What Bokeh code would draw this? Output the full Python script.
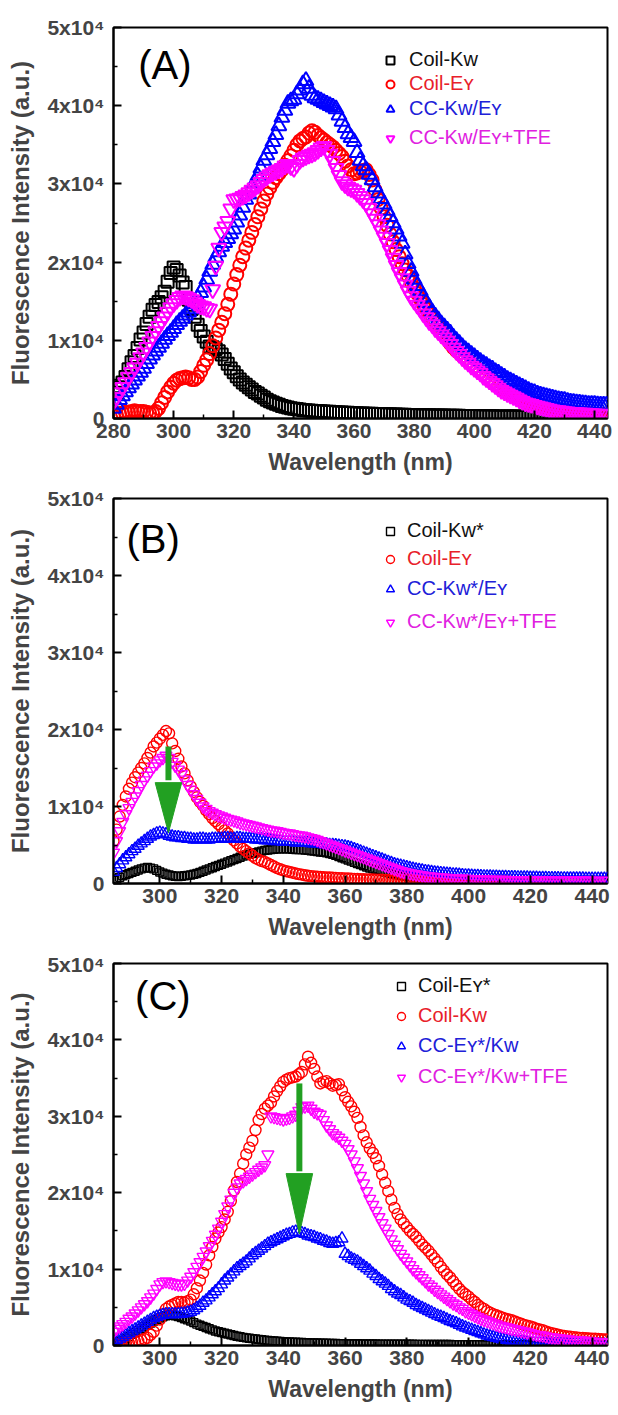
from bokeh.plotting import figure
from bokeh.layouts import column
from bokeh.models import (FixedTicker, Legend, LegendItem, Label, Range1d,
                          CustomJSTickFormatter)
from bokeh.embed import file_html
from bokeh.resources import INLINE

FONT = "Liberation Sans"

# ---------------- data (intensities in units of 10^3 a.u.) ----------------
wl_a = list(range(280, 445))      # 280..444 nm, panel A (1 nm steps)
wl_bc = list(range(285, 446))     # 285..445 nm, panels B and C

a_coil_kw = [
    2.6, 3.3, 4.0, 4.6, 5.3, 6.3, 7.2, 8.0, 9.0, 10.1,
    11.0, 12.1, 13.0, 13.9, 14.5, 14.9, 15.5, 16.2, 17.5, 18.6,
    19.3, 19.0, 18.3, 17.4, 16.8, 15.2, 14.0, 13.0, 12.0, 11.2,
    10.5, 9.8, 9.2, 9.1, 8.9, 8.6, 8.2, 7.6, 7.0, 6.4,
    5.9, 5.4, 5.0, 4.6, 4.3, 4.0, 3.7, 3.4, 3.2, 2.9,
    2.7, 2.4, 2.2, 2.05, 1.9, 1.75, 1.6, 1.5, 1.4, 1.32,
    1.25, 1.2, 1.15, 1.1, 1.05, 1.02, 1.0, 0.97, 0.95, 0.92,
    0.9, 0.87, 0.85, 0.82, 0.8, 0.78, 0.76, 0.74, 0.72, 0.7,
    0.68, 0.66, 0.65, 0.63, 0.62, 0.61, 0.6, 0.58, 0.57, 0.56,
    0.55, 0.54, 0.53, 0.51, 0.5, 0.49, 0.48, 0.47, 0.46, 0.45,
    0.44, 0.43, 0.43, 0.42, 0.41, 0.4, 0.39, 0.38, 0.38, 0.37,
    0.37, 0.36, 0.36, 0.35, 0.35, 0.34, 0.33, 0.33, 0.32, 0.32,
    0.31, 0.31, 0.3, 0.3, 0.29, 0.28, 0.28, 0.27, 0.27, 0.26,
    0.26, 0.25, 0.25, 0.24, 0.24, 0.23, 0.23, 0.22, 0.22, 0.21,
    0.21, 0.2, 0.2, 0.2, 0.19, 0.18, 0.18, 0.17, 0.17, 0.16,
    0.16, 0.15, 0.15, 0.14, 0.14, 0.13, 0.13, 0.13, 0.12, 0.12,
    0.11, 0.11, 0.1, 0.1, 0.1]
a_coil_ey = [
    0.3, 0.4, 0.6, 0.7, 0.8, 0.8, 0.9, 1.0, 0.9, 0.9,
    0.9, 0.8, 0.7, 0.7, 0.9, 1.3, 2.0, 2.7, 3.4, 4.0,
    4.5, 4.9, 5.1, 5.2, 5.3, 5.2, 5.0, 5.0, 5.3, 6.0,
    6.8, 7.5, 8.3, 9.3, 10.3, 11.3, 12.3, 13.4, 14.6, 15.9,
    17.2, 18.4, 19.6, 20.7, 21.8, 22.8, 23.8, 24.8, 25.8, 26.8,
    27.8, 28.7, 29.5, 30.2, 30.8, 31.3, 31.8, 32.4, 33.0, 33.6,
    34.3, 35.0, 35.5, 35.8, 36.0, 36.5, 36.8, 36.6, 36.2, 35.9,
    35.6, 35.3, 35.0, 34.7, 34.3, 33.9, 33.5, 32.9, 32.3, 31.8,
    31.3, 31.4, 31.6, 31.7, 31.8, 31.2, 30.5, 29.2, 28.0, 26.9,
    25.8, 24.7, 23.6, 22.6, 21.6, 20.7, 19.8, 19.0, 18.2, 17.4,
    16.7, 16.0, 15.3, 14.6, 14.0, 13.4, 12.8, 12.2, 11.7, 11.1,
    10.6, 10.1, 9.6, 9.1, 8.7, 8.4, 8.0, 7.7, 7.3, 7.0,
    6.7, 6.3, 6.0, 5.7, 5.4, 5.0, 4.7, 4.4, 4.1, 3.8,
    3.5, 3.3, 3.1, 2.9, 2.7, 2.5, 2.3, 2.1, 1.95, 1.8,
    1.7, 1.6, 1.5, 1.4, 1.3, 1.2, 1.1, 1.0, 0.95, 0.9,
    0.85, 0.8, 0.75, 0.72, 0.7, 0.68, 0.65, 0.62, 0.6, 0.58,
    0.55, 0.52, 0.5, 0.48, 0.46]
a_cc = [
    1.3, 1.8, 2.4, 2.9, 3.4, 3.9, 4.4, 4.9, 5.4, 5.9,
    6.4, 7.0, 7.6, 8.1, 8.6, 9.1, 9.6, 10.1, 10.6, 11.0,
    11.5, 12.0, 12.4, 12.8, 13.2, 13.6, 14.0, 14.7, 15.4, 16.1,
    16.8, 17.8, 18.8, 19.7, 20.6, 21.3, 22.0, 22.5, 23.0, 23.6,
    24.2, 25.1, 26.0, 27.0, 28.0, 28.7, 29.5, 30.2, 31.0, 32.0,
    33.0, 33.7, 34.5, 35.4, 36.3, 37.4, 38.5, 39.4, 40.3, 40.6,
    40.8, 41.5, 42.0, 42.8, 43.2, 42.2, 41.3, 41.0, 40.8, 40.6,
    40.4, 40.2, 40.0, 39.8, 39.6, 38.8, 38.0, 37.2, 36.4, 35.9,
    35.4, 34.0, 33.0, 32.3, 31.8, 31.2, 30.5, 29.6, 28.8, 28.1,
    27.4, 26.6, 25.8, 25.0, 24.2, 23.3, 22.4, 21.0, 19.8, 18.8,
    17.8, 17.0, 16.3, 15.5, 14.8, 14.2, 13.6, 13.1, 12.6, 12.1,
    11.7, 11.3, 10.9, 10.4, 10.0, 9.6, 9.2, 8.8, 8.5, 8.2,
    7.9, 7.6, 7.3, 7.0, 6.8, 6.5, 6.3, 6.0, 5.8, 5.5,
    5.3, 5.0, 4.8, 4.6, 4.4, 4.2, 4.0, 3.8, 3.6, 3.4,
    3.3, 3.1, 3.0, 2.9, 2.8, 2.7, 2.6, 2.5, 2.4, 2.35,
    2.3, 2.2, 2.1, 2.05, 2.0, 1.95, 1.9, 1.85, 1.8, 1.8,
    1.8, 1.75, 1.7, 1.7, 1.7]
a_cc_tfe = [
    2.2, 2.7, 3.3, 4.0, 4.6, 5.3, 5.9, 6.5, 7.1, 7.8,
    8.4, 9.1, 9.8, 10.5, 11.1, 11.8, 12.4, 13.0, 13.6, 14.2,
    14.7, 15.1, 15.5, 15.7, 15.6, 15.4, 15.2, 14.9, 14.6, 14.4,
    14.3, 14.1, 14.0, 16.5, 19.5, 21.8, 23.8, 24.5, 25.2, 26.8,
    28.0, 28.1, 28.2, 28.4, 28.6, 28.9, 29.2, 29.5, 29.8, 30.2,
    30.6, 30.9, 31.2, 31.4, 31.6, 31.8, 32.0, 32.3, 32.5, 32.2,
    32.0, 32.5, 33.0, 33.3, 33.5, 33.7, 33.8, 34.0, 34.3, 34.6,
    34.8, 34.3, 33.8, 32.9, 32.0, 31.1, 30.3, 29.9, 29.6, 29.4,
    29.2, 28.8, 28.4, 28.0, 27.5, 26.9, 26.2, 25.5, 24.8, 24.0,
    23.2, 22.4, 21.5, 20.5, 19.6, 18.7, 17.9, 17.1, 16.3, 15.6,
    15.0, 14.5, 14.0, 13.4, 12.9, 12.4, 12.0, 11.5, 11.1, 10.7,
    10.3, 9.9, 9.5, 9.0, 8.6, 8.2, 7.8, 7.4, 7.1, 6.7,
    6.4, 6.1, 5.8, 5.4, 5.1, 4.8, 4.5, 4.2, 3.9, 3.6,
    3.4, 3.2, 3.0, 2.8, 2.6, 2.4, 2.2, 2.0, 1.9, 1.8,
    1.7, 1.6, 1.5, 1.4, 1.3, 1.2, 1.1, 1.05, 1.0, 0.95,
    0.9, 0.85, 0.8, 0.78, 0.75, 0.72, 0.7, 0.68, 0.65, 0.62,
    0.6, 0.58, 0.55, 0.52, 0.5]

b_coil_kw_star = [
    0.4, 0.6, 0.8, 1.0, 1.15,
    1.3, 1.45, 1.6, 1.75, 1.9, 2.0, 2.1, 2.0, 1.9, 1.7,
    1.5, 1.35, 1.2, 1.1, 1.0, 0.95, 0.9, 0.95, 1.0, 1.05,
    1.1, 1.2, 1.3, 1.45, 1.6, 1.75, 1.9, 2.05, 2.2, 2.35,
    2.5, 2.65, 2.8, 2.95, 3.1, 3.25, 3.4, 3.55, 3.7, 3.8,
    3.9, 4.0, 4.1, 4.2, 4.3, 4.35, 4.4, 4.45, 4.5, 4.5,
    4.5, 4.5, 4.5, 4.45, 4.4, 4.4, 4.4, 4.35, 4.3, 4.25,
    4.2, 4.15, 4.1, 4.05, 4.0, 3.9, 3.8, 3.65, 3.5, 3.35,
    3.2, 3.05, 2.9, 2.75, 2.6, 2.45, 2.3, 2.15, 2.0, 1.9,
    1.8, 1.7, 1.6, 1.5, 1.4, 1.3, 1.2, 1.12, 1.05, 1.0,
    0.95, 0.9, 0.85, 0.82, 0.78, 0.75, 0.72, 0.69, 0.66, 0.64,
    0.62, 0.6, 0.58, 0.56, 0.55, 0.53, 0.52, 0.51, 0.5, 0.49,
    0.48, 0.47, 0.46, 0.45, 0.44, 0.43, 0.42, 0.41, 0.4, 0.4,
    0.39, 0.39, 0.38, 0.38, 0.37, 0.37, 0.36, 0.36, 0.35, 0.35,
    0.34, 0.34, 0.33, 0.33, 0.32, 0.32, 0.31, 0.31, 0.3, 0.3,
    0.3, 0.3, 0.29, 0.29, 0.28, 0.28, 0.28, 0.28, 0.27, 0.27,
    0.27, 0.27, 0.26, 0.26, 0.26, 0.26]
b_coil_ey = [
    5.5, 7.0, 8.7, 10.2, 11.3,
    12.3, 13.1, 13.8, 14.4, 15.0, 15.6, 16.3, 17.0, 17.8, 18.3,
    18.8, 19.3, 19.8, 19.5, 18.2, 17.2, 16.2, 15.2, 14.3, 13.4,
    12.6, 11.9, 11.2, 10.6, 10.1, 9.5, 9.0, 8.5, 8.1, 7.7,
    7.3, 6.9, 6.5, 6.0, 5.6, 5.2, 4.8, 4.5, 4.2, 3.9,
    3.6, 3.3, 3.1, 2.9, 2.8, 2.6, 2.4, 2.2, 2.0, 1.85,
    1.7, 1.6, 1.5, 1.4, 1.3, 1.22, 1.15, 1.07, 1.0, 0.96,
    0.92, 0.88, 0.85, 0.82, 0.8, 0.77, 0.75, 0.72, 0.7, 0.68,
    0.66, 0.64, 0.62, 0.6, 0.58, 0.56, 0.55, 0.53, 0.52, 0.51,
    0.5, 0.49, 0.48, 0.47, 0.46, 0.45, 0.44, 0.43, 0.42, 0.41,
    0.4, 0.39, 0.38, 0.37, 0.36, 0.35, 0.35, 0.34, 0.34, 0.33,
    0.33, 0.32, 0.32, 0.31, 0.31, 0.3, 0.3, 0.29, 0.29, 0.28,
    0.28, 0.27, 0.27, 0.26, 0.26, 0.25, 0.25, 0.24, 0.24, 0.23,
    0.23, 0.22, 0.22, 0.21, 0.21, 0.2, 0.2, 0.2, 0.2, 0.19,
    0.19, 0.19, 0.18, 0.18, 0.18, 0.17, 0.17, 0.17, 0.16, 0.16,
    0.16, 0.16, 0.15, 0.15, 0.15, 0.15, 0.14, 0.14, 0.14, 0.14,
    0.14, 0.13, 0.13, 0.13, 0.13, 0.13]
b_cc = [
    1.5, 2.0, 2.5, 3.0, 3.4,
    3.8, 4.2, 4.5, 4.9, 5.2, 5.5, 5.8, 6.1, 6.3, 6.5,
    6.6, 6.5, 6.4, 6.2, 6.1, 6.0, 6.0, 5.9, 5.9, 5.8,
    5.8, 5.7, 5.7, 5.8, 5.8, 5.7, 5.7, 5.8, 5.8, 5.8,
    5.8, 5.9, 5.9, 5.8, 5.8, 5.9, 5.9, 5.8, 5.8, 5.8,
    5.8, 5.7, 5.7, 5.7, 5.6, 5.6, 5.6, 5.5, 5.5, 5.5,
    5.4, 5.4, 5.4, 5.4, 5.3, 5.3, 5.3, 5.3, 5.3, 5.2,
    5.2, 5.2, 5.2, 5.1, 5.1, 5.0, 5.0, 4.95, 4.9, 4.85,
    4.8, 4.7, 4.6, 4.45, 4.3, 4.15, 4.0, 3.85, 3.7, 3.55,
    3.4, 3.25, 3.1, 2.95, 2.8, 2.65, 2.5, 2.4, 2.3, 2.2,
    2.1, 2.0, 1.9, 1.82, 1.75, 1.68, 1.6, 1.54, 1.48, 1.43,
    1.38, 1.34, 1.3, 1.26, 1.22, 1.18, 1.15, 1.12, 1.08, 1.05,
    1.02, 1.0, 0.98, 0.96, 0.94, 0.92, 0.91, 0.9, 0.88, 0.86,
    0.85, 0.84, 0.83, 0.82, 0.81, 0.8, 0.79, 0.78, 0.77, 0.76,
    0.75, 0.74, 0.73, 0.72, 0.71, 0.7, 0.69, 0.68, 0.67, 0.67,
    0.66, 0.66, 0.65, 0.65, 0.64, 0.64, 0.63, 0.63, 0.62, 0.62,
    0.61, 0.61, 0.6, 0.6, 0.6, 0.6]
b_cc_tfe = [
    4.0, 5.5, 6.8, 8.0, 9.0,
    9.8, 10.6, 11.3, 12.0, 12.8, 13.4, 14.0, 14.6, 15.2, 15.6,
    16.0, 16.3, 16.6, 16.3, 15.8, 15.3, 14.8, 14.2, 13.5, 12.8,
    12.2, 11.6, 11.0, 10.5, 10.0, 9.7, 9.4, 9.2, 9.0, 8.85,
    8.7, 8.55, 8.4, 8.3, 8.2, 8.05, 7.9, 7.8, 7.7, 7.6,
    7.5, 7.4, 7.3, 7.2, 7.1, 7.0, 6.9, 6.85, 6.8, 6.7,
    6.6, 6.55, 6.5, 6.4, 6.3, 6.25, 6.2, 6.1, 6.0, 5.9,
    5.8, 5.65, 5.5, 5.35, 5.2, 5.05, 4.9, 4.75, 4.6, 4.45,
    4.3, 4.15, 4.0, 3.85, 3.7, 3.55, 3.4, 3.25, 3.1, 2.95,
    2.8, 2.65, 2.5, 2.35, 2.2, 2.05, 1.9, 1.75, 1.6, 1.5,
    1.4, 1.32, 1.25, 1.18, 1.1, 1.05, 1.0, 0.95, 0.9, 0.86,
    0.82, 0.79, 0.76, 0.73, 0.7, 0.68, 0.66, 0.64, 0.62, 0.6,
    0.58, 0.56, 0.55, 0.53, 0.52, 0.51, 0.5, 0.49, 0.48, 0.47,
    0.46, 0.45, 0.45, 0.44, 0.44, 0.43, 0.43, 0.42, 0.42, 0.42,
    0.41, 0.41, 0.4, 0.4, 0.4, 0.39, 0.39, 0.39, 0.38, 0.38,
    0.38, 0.38, 0.37, 0.37, 0.37, 0.37, 0.36, 0.36, 0.36, 0.36,
    0.36, 0.35, 0.35, 0.35, 0.35, 0.35]

c_coil_ey_star = [
    0.3, 0.4, 0.55, 0.7, 0.95,
    1.2, 1.45, 1.7, 1.95, 2.2, 2.45, 2.7, 2.95, 3.2, 3.4,
    3.6, 3.75, 3.9, 3.95, 4.0, 3.9, 3.8, 3.65, 3.5, 3.35,
    3.2, 3.0, 2.8, 2.65, 2.5, 2.35, 2.2, 2.05, 1.9, 1.8,
    1.7, 1.6, 1.5, 1.4, 1.3, 1.22, 1.15, 1.07, 1.0, 0.95,
    0.9, 0.85, 0.8, 0.75, 0.7, 0.66, 0.62, 0.58, 0.55, 0.52,
    0.5, 0.48, 0.46, 0.44, 0.42, 0.4, 0.39, 0.37, 0.36, 0.34,
    0.33, 0.32, 0.31, 0.3, 0.29, 0.28, 0.27, 0.26, 0.25, 0.25,
    0.24, 0.23, 0.23, 0.22, 0.22, 0.21, 0.21, 0.2, 0.2, 0.19,
    0.19, 0.18, 0.18, 0.18, 0.18, 0.17, 0.17, 0.17, 0.17, 0.16,
    0.16, 0.16, 0.16, 0.15, 0.15, 0.15, 0.15, 0.14, 0.14, 0.14,
    0.14, 0.13, 0.13, 0.13, 0.13, 0.12, 0.12, 0.12, 0.12, 0.12,
    0.12, 0.11, 0.11, 0.11, 0.11, 0.1, 0.1, 0.1, 0.1, 0.1,
    0.1, 0.09, 0.09, 0.09, 0.09, 0.09, 0.09, 0.08, 0.08, 0.08,
    0.08, 0.08, 0.08, 0.08, 0.07, 0.07, 0.07, 0.07, 0.07, 0.06,
    0.06, 0.06, 0.06, 0.06, 0.06, 0.06, 0.05, 0.05, 0.05, 0.05,
    0.05, 0.05, 0.05, 0.05, 0.05, 0.05]
c_coil_kw = [
    0.2, 0.2, 0.25, 0.3, 0.3,
    0.3, 0.4, 0.5, 0.6, 0.7, 0.85, 1.0, 1.4, 1.8, 2.6,
    3.4, 4.1, 4.8, 5.1, 5.3, 5.5, 5.7, 5.7, 5.6, 5.8,
    6.0, 6.7, 7.5, 8.5, 9.5, 10.6, 11.8, 12.9, 14.0, 14.8,
    15.5, 16.5, 17.5, 18.9, 20.3, 21.4, 22.5, 23.8, 25.0, 25.9,
    26.8, 28.2, 29.5, 30.3, 31.0, 31.4, 31.8, 32.6, 33.3, 33.9,
    34.5, 34.8, 35.0, 35.1, 35.2, 35.5, 35.8, 36.8, 37.8, 37.0,
    36.2, 35.2, 34.3, 34.5, 34.6, 34.3, 34.0, 34.1, 34.2, 33.4,
    32.5, 31.9, 31.3, 30.6, 29.8, 28.6, 27.5, 26.6, 25.8, 25.2,
    24.5, 23.5, 22.4, 21.3, 20.2, 19.1, 18.0, 17.2, 16.5, 16.0,
    15.5, 15.0, 14.6, 14.2, 13.7, 13.2, 12.8, 12.4, 11.9, 11.4,
    10.9, 10.3, 9.8, 9.3, 8.9, 8.4, 7.9, 7.4, 7.0, 6.7,
    6.4, 6.0, 5.7, 5.3, 5.0, 4.8, 4.5, 4.3, 4.1, 3.95,
    3.8, 3.65, 3.5, 3.4, 3.3, 3.15, 3.0, 2.85, 2.7, 2.6,
    2.5, 2.35, 2.2, 2.1, 2.0, 1.85, 1.7, 1.6, 1.5, 1.4,
    1.3, 1.25, 1.2, 1.15, 1.1, 1.05, 1.0, 0.98, 0.95, 0.92,
    0.9, 0.88, 0.85, 0.82, 0.8, 0.78]
c_cc = [
    0.5, 0.7, 0.9, 1.1, 1.35,
    1.6, 1.85, 2.1, 2.35, 2.6, 2.85, 3.1, 3.35, 3.6, 3.75,
    3.9, 4.0, 4.1, 4.1, 4.1, 4.1, 4.1, 4.15, 4.2, 4.3,
    4.4, 4.6, 4.9, 5.2, 5.6, 5.9, 6.3, 6.7, 7.1, 7.5,
    8.0, 8.5, 8.9, 9.3, 9.7, 10.1, 10.4, 10.7, 11.0, 11.4,
    11.8, 12.1, 12.4, 12.7, 13.0, 13.3, 13.5, 13.7, 13.9, 14.1,
    14.3, 14.5, 14.6, 14.8, 14.9, 14.8, 14.7, 14.6, 14.4, 14.3,
    14.2, 14.0, 13.9, 13.7, 13.6, 13.4, 13.3, 13.4, 13.5, 14.0,
    12.0, 11.7, 11.4, 11.2, 11.0, 10.7, 10.4, 10.1, 9.8, 9.4,
    9.1, 8.7, 8.4, 8.1, 7.8, 7.4, 7.1, 6.8, 6.6, 6.3,
    6.0, 5.8, 5.6, 5.3, 5.1, 4.9, 4.7, 4.5, 4.3, 4.1,
    3.9, 3.75, 3.6, 3.4, 3.2, 3.05, 2.9, 2.7, 2.5, 2.35,
    2.2, 2.05, 1.9, 1.75, 1.6, 1.45, 1.3, 1.2, 1.1, 1.0,
    0.9, 0.82, 0.75, 0.68, 0.6, 0.55, 0.5, 0.46, 0.42, 0.38,
    0.35, 0.32, 0.3, 0.28, 0.26, 0.24, 0.22, 0.21, 0.2, 0.19,
    0.18, 0.17, 0.16, 0.16, 0.15, 0.15, 0.14, 0.14, 0.13, 0.13,
    0.12, 0.12, 0.12, 0.11, 0.11, 0.11]
c_cc_tfe = [
    1.8, 2.2, 2.5, 2.8, 3.1,
    3.5, 3.8, 4.2, 4.6, 5.0, 5.4, 5.8, 6.3, 6.8, 7.4,
    8.0, 8.3, 8.4, 8.3, 8.2, 8.1, 8.0, 8.0, 8.1, 8.5,
    9.0, 9.6, 10.3, 10.9, 11.6, 12.3, 13.0, 13.7, 14.5, 15.3,
    16.2, 17.2, 18.2, 19.1, 20.0, 20.7, 21.2, 21.5, 21.8, 22.1,
    22.4, 22.7, 23.0, 23.3, 23.6, 25.0, 30.0, 29.9, 29.8, 29.7,
    29.6, 29.7, 29.8, 30.0, 30.2, 30.7, 31.2, 31.3, 31.4, 31.0,
    30.6, 30.4, 30.2, 29.5, 28.8, 28.3, 27.8, 27.5, 27.2, 26.8,
    26.4, 25.7, 25.0, 24.1, 23.2, 22.2, 21.2, 20.2, 19.2, 18.4,
    17.6, 16.8, 16.0, 15.3, 14.6, 13.9, 13.2, 12.6, 12.0, 11.5,
    11.0, 10.5, 10.0, 9.6, 9.2, 8.8, 8.4, 8.0, 7.7, 7.3,
    7.0, 6.7, 6.4, 6.1, 5.8, 5.5, 5.3, 5.0, 4.8, 4.5,
    4.3, 4.1, 3.9, 3.7, 3.5, 3.35, 3.2, 3.05, 2.9, 2.75,
    2.6, 2.5, 2.4, 2.3, 2.2, 2.1, 2.0, 1.9, 1.8, 1.7,
    1.6, 1.5, 1.4, 1.35, 1.3, 1.2, 1.1, 1.05, 1.0, 0.95,
    0.9, 0.85, 0.8, 0.75, 0.7, 0.68, 0.65, 0.62, 0.6, 0.55,
    0.5, 0.48, 0.45, 0.42, 0.4, 0.38]

labels_a = ["Coil-K\u1d21", "Coil-E\u028f", "CC-K\u1d21/E\u028f", "CC-K\u1d21/E\u028f+TFE"]
labels_b = ["Coil-K\u1d21*", "Coil-E\u028f", "CC-K\u1d21*/E\u028f", "CC-K\u1d21*/E\u028f+TFE"]
labels_c = ["Coil-E\u028f*", "Coil-K\u1d21", "CC-E\u028f*/K\u1d21", "CC-E\u028f*/K\u1d21+TFE"]

y_ticks = [0, 10000, 20000, 30000, 40000, 50000]
y_tick_labels = ["0", "1x10\u2074", "2x10\u2074", "3x10\u2074", "4x10\u2074", "5x10\u2074"]
y_minor = [5000, 15000, 25000, 35000, 45000]
x_ticks_a = [280, 300, 320, 340, 360, 380, 400, 420, 440]
x_ticks_bc = [300, 320, 340, 360, 380, 400, 420, 440]
x_minor = [290, 310, 330, 350, 370, 390, 410, 430]

for arr in (a_coil_kw, a_coil_ey, a_cc, a_cc_tfe):
    assert len(arr) == len(wl_a), len(arr)
for arr in (b_coil_kw_star, b_coil_ey, b_cc, b_cc_tfe,
            c_coil_ey_star, c_coil_kw, c_cc, c_cc_tfe):
    assert len(arr) == len(wl_bc), len(arr)

MARKERS = ["square", "circle", "triangle", "inverted_triangle"]
COLORS = ["#000000", "#ff0000", "#0000ff", "#ff00ff"]
TEXT_COLORS = ["#111111", "#e8202a", "#2020d8", "#e020e0"]
GREEN = "#22a022"

# annotation placement (arrows in data units)
ARROW_B = dict(x=302.8, top=17800, tip=6600, head=6500, half=4.3)
ARROW_C = dict(x=345.2, top=34300, tip=14600, head=7900, half=4.3)


def build_panel(wl, values, labels, x_range, x_major, height, borders,
                tag, tag_pos, leg_x, leg_ys, standoff, sizes, lw, arrow=None):
    left, right, top, bottom = borders
    p = figure(width=618, height=height, x_range=Range1d(*x_range),
               y_range=Range1d(0, 50000), output_backend="svg",
               toolbar_location=None, min_border_left=left,
               min_border_right=right, min_border_top=top,
               min_border_bottom=bottom)
    p.grid.visible = False
    p.outline_line_color = "black"
    p.outline_line_width = 2
    p.outline_line_alpha = 1
    p.background_fill_color = "white"
    p.border_fill_color = "white"

    rends = []
    for vals, mk, col in zip(values, MARKERS, COLORS):
        r = p.scatter(wl, [v * 1000 for v in vals], marker=mk,
                      size=sizes[mk], line_color=col, fill_color=None,
                      line_width=lw)
        rends.append(r)

    for lab, r, tc, ly in zip(labels, rends, TEXT_COLORS, leg_ys):
        leg = Legend(items=[LegendItem(label=lab, renderers=[r])],
                     location=(leg_x, ly), padding=0, margin=0, spacing=0,
                     glyph_width=20, glyph_height=20, label_height=20,
                     label_standoff=standoff, border_line_alpha=0,
                     background_fill_alpha=0, label_text_color=tc,
                     label_text_font=FONT, label_text_font_size="20px")
        p.add_layout(leg)

    p.add_layout(Label(x=tag_pos[0], y=tag_pos[1], text=tag,
                       text_font=FONT, text_font_size="40px",
                       text_baseline="middle", text_align="left",
                       text_color="black"))

    if arrow is not None:
        base = arrow["tip"] + arrow["head"]
        p.segment(x0=[arrow["x"]], y0=[arrow["top"]], x1=[arrow["x"]],
                  y1=[base + 300], line_color=GREEN, line_width=6)
        p.patch(x=[arrow["x"] - arrow["half"], arrow["x"] + arrow["half"], arrow["x"]],
                y=[base, base, arrow["tip"]], fill_color=GREEN,
                line_color=GREEN, line_width=1)

    xa = p.xaxis[0]
    xa.ticker = FixedTicker(ticks=x_major, minor_ticks=x_minor)
    ya = p.yaxis[0]
    ya.ticker = FixedTicker(ticks=y_ticks, minor_ticks=y_minor)
    ya.formatter = CustomJSTickFormatter(
        args=dict(yvals=y_ticks, ylabs=y_tick_labels),
        code="const i = yvals.indexOf(tick); return i >= 0 ? ylabs[i] : '';")
    for ax in (xa, ya):
        ax.axis_line_width = 2
        ax.major_tick_in = 8
        ax.major_tick_out = 0
        ax.minor_tick_in = 4
        ax.minor_tick_out = 0
        ax.major_tick_line_width = 2
        ax.minor_tick_line_width = 1.5
        ax.major_label_text_font = FONT
        ax.major_label_text_font_style = "bold"
        ax.major_label_text_font_size = "21px"
        ax.axis_label_text_font = FONT
        ax.axis_label_text_font_style = "bold"
    xa.axis_label = "Wavelength (nm)"
    xa.axis_label_text_font_size = "23px"
    xa.major_label_standoff = 5
    xa.axis_label_standoff = 8
    ya.axis_label = "Fluorescence Intensity (a.u.)"
    ya.axis_label_text_font_size = "24px"
    ya.major_label_standoff = 9
    ya.axis_label_standoff = 10
    return p


size_a = {"square": 12, "circle": 13, "triangle": 15, "inverted_triangle": 15}
size_bc = {"square": 8, "circle": 11, "triangle": 12, "inverted_triangle": 12}

pA = build_panel(wl_a, [a_coil_kw, a_coil_ey, a_cc, a_cc_tfe], labels_a,
                 (280, 444.3), x_ticks_a, 482, (113, 8, 27, 64),
                 "(A)", (288.2, 45200), 267, [347, 323, 298, 269], 9,
                 size_a, 2)
pB = build_panel(wl_bc, [b_coil_kw_star, b_coil_ey, b_cc, b_cc_tfe], labels_b,
                 (285, 445), x_ticks_bc, 470, (111, 9, 16, 69),
                 "(B)", (289.2, 44700), 267, [341, 313, 283, 250], 7,
                 size_bc, 1.4, ARROW_B)
pC = build_panel(wl_bc, [c_coil_ey_star, c_coil_kw, c_cc, c_cc_tfe], labels_c,
                 (285, 445), x_ticks_bc, 463, (108, 11, 11, 70),
                 "(C)", (292, 45800), 278, [348, 318, 288, 257], 7,
                 size_bc, 1.4, ARROW_C)

layout = column(pA, pB, pC, spacing=0)
open("out.html", "w").write(file_html(layout, INLINE))
